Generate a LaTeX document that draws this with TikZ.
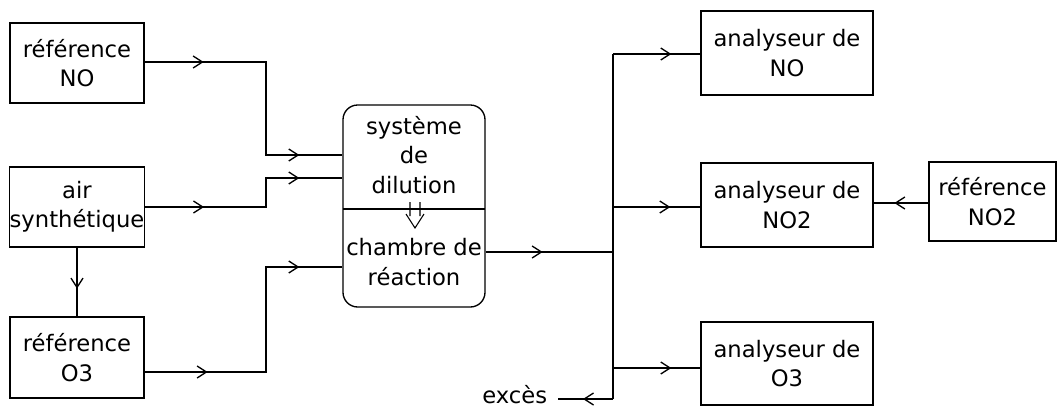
\documentclass[tikz,border=0pt]{standalone}
\usepackage{fontspec}
\setmainfont{DejaVu Sans}
\usetikzlibrary{arrows.meta,decorations.markings}
\tikzset{
  wire/.style={line width=1pt},
  blk/.style={draw, line width=1pt, align=center, inner sep=0pt, font=\fontsize{17}{22}\selectfont},
  lbl/.style={align=center, inner sep=0pt, font=\fontsize{17}{22}\selectfont},
  barb/.tip={Straight Barb[length=7pt,width=9pt,line width=1pt]},
  arrat/.style={postaction={decorate, decoration={markings, mark=at position #1 with {\arrow{barb}}}}},
  arrtwo/.style 2 args={postaction={decorate, decoration={markings,
      mark=at position #1 with {\arrow{barb}},
      mark=at position #2 with {\arrow{barb}}}}}
}
\begin{document}
\begin{tikzpicture}[x=0.75pt,y=-0.75pt]
\useasboundingbox (0,0) rectangle (1058,408);

% left boxes
\node[blk, minimum width=100.5pt, minimum height=60pt] (refNO) at (77,63) {référence\\NO};
\node[blk, minimum width=100.5pt, minimum height=60pt] (air) at (77,207) {air\\synthétique};
\node[blk, minimum width=100.5pt, minimum height=60.75pt] (refO3) at (77,357.5) {référence\\O3};

% central system
\node[draw, line width=1pt, rounded corners=11pt, minimum width=106.5pt, minimum height=151.5pt, inner sep=0pt] (sys) at (414,206) {};
\node[lbl] (dil) at (414,155) {système\\de\\dilution};
\node[lbl] (cha) at (414,262) {chambre de\\réaction};
\coordinate (divL) at (343,209);
\coordinate (divR) at (485,209);
\draw[wire] (divL) -- (divR);
\coordinate (dA1) at (410,202); \coordinate (dA2) at (410,216);
\coordinate (dB1) at (420,202); \coordinate (dB2) at (420,216);
\coordinate (dV1) at (406,214); \coordinate (dV2) at (415,228); \coordinate (dV3) at (424,214);
\draw[line width=0.8pt] (dA1) -- (dA2) (dB1) -- (dB2) (dV1) -- (dV2) -- (dV3);

% right boxes
\node[blk, minimum width=129pt, minimum height=63pt] (aNO) at (787,53) {analyseur de\\NO};
\node[blk, minimum width=129pt, minimum height=63pt] (aNO2) at (787,205) {analyseur de\\NO2};
\node[blk, minimum width=129pt, minimum height=62.25pt] (aO3) at (787,363.5) {analyseur de\\O3};
\node[blk, minimum width=95.25pt, minimum height=59.25pt] (refNO2) at (992.5,201.5) {référence\\NO2};
\node[lbl, anchor=east, inner xsep=8pt] (exc) at (558,395) {excès};

% left connectors
\draw[wire, arrtwo={44.25pt}{-32.25pt}] (refNO.east |- 0,62) -- (266,62) -- (266,155) -- (sys.west |- 0,155);
\draw[wire, arrtwo={44.25pt}{-32.25pt}] (air.east |- 0,207) -- (266,207) -- (266,178) -- (sys.west |- 0,178);
\draw[wire, arrtwo={47.25pt}{-32.25pt}] (refO3.east |- 0,372) -- (266,372) -- (266,267) -- (sys.west |- 0,267);
\draw[wire, arrat=30.75pt] (air.south) -- (refO3.north);

% output and bus
\coordinate (jin) at (613,252);
\draw[wire, arrat=42.75pt] (sys.east |- jin) -- (jin);
\coordinate (busT) at (613,54);
\coordinate (busB) at (613,399);
\draw[wire] (busT) -- (busB);
\draw[wire, arrat=-21.75pt] (busT) -- (aNO.west |- busT);
\draw[wire, arrat=-22.5pt] (jin |- 0,207) -- (aNO2.west |- 0,207);
\draw[wire, arrat=-21.75pt] (jin |- 0,368) -- (aO3.west |- 0,368);
\draw[wire, arrat=22.5pt] (busB) -- (busB -| exc.east);
\draw[wire, arrat=25.5pt] (refNO2.west |- 0,203) -- (aNO2.east |- 0,203);
\end{tikzpicture}
\end{document}
